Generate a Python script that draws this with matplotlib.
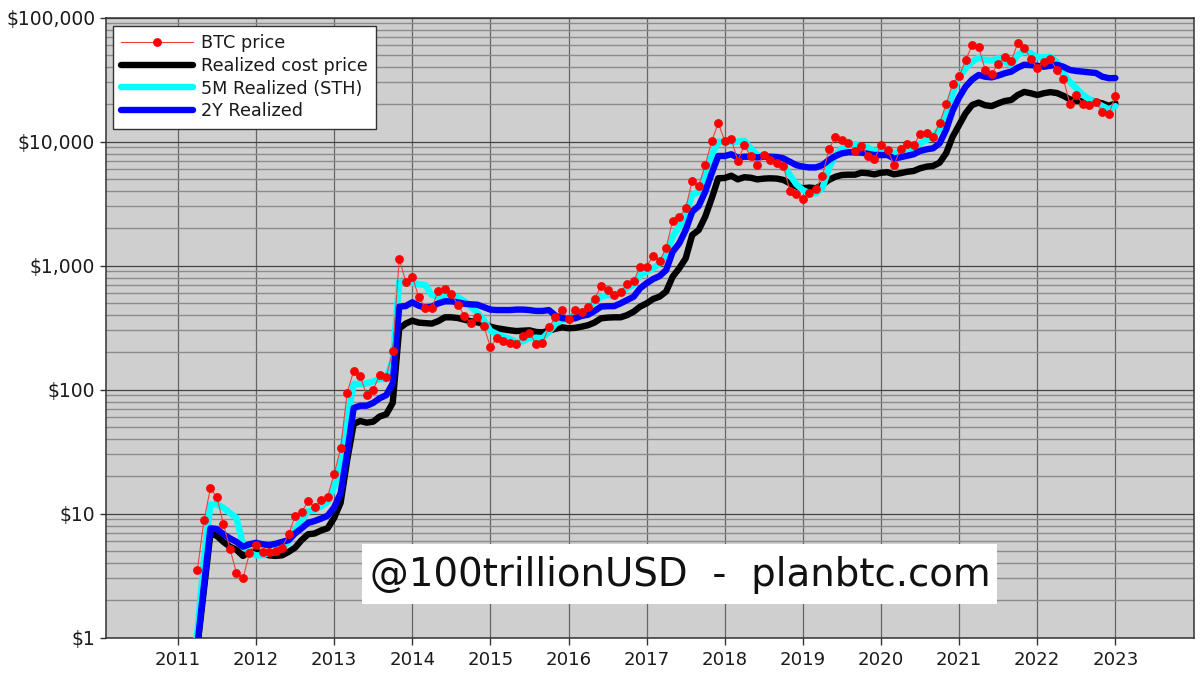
import numpy as np
import matplotlib
matplotlib.use("Agg")
import matplotlib.pyplot as plt
from matplotlib.patches import Rectangle
from matplotlib.ticker import FuncFormatter, LogLocator, NullFormatter

# Monthly values, March 2011 to January 2023 (no price shown for the first month)
btc_price = [
    np.nan, 3.5, 8.8, 16, 13.5, 8.2, 5.2, 3.3, 3.0, 4.8,
    5.6, 4.9, 4.9, 5.0, 5.3, 6.8, 9.5, 10.3, 12.5, 11.2, 12.9, 13.7,
    20.9, 33.6, 94, 141, 129, 90, 100, 131, 126, 204, 1135, 741,
    813, 557, 457, 454, 627, 646, 592, 483, 394, 343, 385, 324,
    220, 260, 248, 238, 231, 268, 288, 233, 238, 319, 382, 435,
    371, 441, 424, 460, 537, 684, 631, 575, 611, 705, 750, 979,
    979, 1200, 1086, 1393, 2297, 2460, 2890, 4827, 4378, 6450, 10100, 14030,
    10140, 10470, 7000, 9300, 7590, 6450, 7780, 7100, 6670, 6380, 3990, 3750,
    3436, 3845, 4140, 5300, 8650, 10930, 10290, 9730, 8340, 9240, 7640, 7180,
    9420, 8590, 6460, 8750, 9550, 9300, 11500, 11770, 10860, 14030, 19950, 29270,
    33550, 45400, 59700, 57800, 37800, 35300, 42200, 47700, 44400, 62200, 57100, 46600,
    38900, 44000, 46200, 37800, 32100, 20200, 23500, 20200, 19600, 20700, 17400, 16700,
    23300,
]
realized_cost = [
    0.3, 0.85, 2.4, 6.9, 6.6, 5.9, 5.4, 5.1, 4.55, 4.9,
    4.9, 4.8, 4.6, 4.55, 4.6, 4.9, 5.3, 6.1, 6.8, 6.9, 7.3, 7.6,
    9.2, 12.2, 26.8, 52.7, 55.7, 54, 55, 60.6, 63, 78, 310, 340,
    359, 346, 343, 340, 356, 382, 382, 377, 366, 355, 348, 338,
    321, 312, 306, 300, 296, 298, 300, 291, 289, 298, 309, 317,
    312, 314, 321, 330, 347, 375, 380, 382, 382, 398, 424, 466,
    495, 537, 561, 617, 813, 948, 1143, 1762, 1932, 2477, 3480, 5050,
    5080, 5300, 4950, 5150, 5100, 4950, 5020, 5050, 5020, 4900, 4600, 4320,
    4200, 4250, 4200, 4470, 4900, 5200, 5370, 5400, 5400, 5600, 5550, 5430,
    5600, 5650, 5430, 5550, 5700, 5780, 6080, 6270, 6350, 6750, 8030, 10930,
    13600, 16900, 19700, 20600, 19600, 19300, 20300, 21200, 21600, 23700, 25100, 24500,
    23700, 24500, 25000, 24600, 23400, 21900, 21200, 21200, 21600, 20900, 20300, 19400,
    20300,
]
sth_5m = [
    0.55, 1.1, 4.2, 11.8, 11.9, 11.1, 10.1, 9.2, 5.6, 4.8,
    4.6, 4.6, 4.8, 4.9, 5.2, 5.9, 7.4, 8.9, 10.4, 10.7, 11.4, 12.4,
    16.4, 25.5, 57, 111, 111, 112, 116, 122, 121, 174, 741, 717,
    731, 705, 697, 578, 560, 560, 560, 555, 517, 466, 417, 363,
    298, 280, 267, 255, 240, 245, 259, 262, 259, 292, 338, 363,
    371, 398, 419, 451, 511, 560, 578, 571, 603, 655, 697, 837,
    891, 948, 1042, 1216, 1706, 2056, 2553, 3700, 3935, 5370, 7780, 9950,
    9950, 9950, 9950, 10150, 8810, 7780, 7640, 7310, 6870, 6450, 5370, 4520,
    4060, 3820, 3820, 4200, 6080, 7780, 8810, 9380, 9500, 9080, 8950, 8280,
    8530, 8530, 8040, 8280, 8810, 8810, 9660, 10290, 10930, 12750, 16900, 24500,
    33300, 38900, 44000, 47400, 45400, 44900, 46900, 44000, 41400, 49900, 53700, 51400,
    47800, 47800, 48300, 44000, 35500, 30300, 26900, 23700, 21900, 20600, 19300, 18200,
    19300,
]
realized_2y = [
    0.3, 0.87, 2.6, 7.6, 7.5, 6.8, 6.3, 5.9, 5.4, 5.65,
    5.8, 5.65, 5.55, 5.7, 5.9, 6.1, 6.9, 7.6, 8.4, 8.7, 9.1, 9.6,
    11.2, 14.6, 30.8, 71, 74, 74, 78, 85, 90, 112, 466, 471,
    505, 474, 457, 466, 495, 514, 514, 505, 492, 486, 483, 462,
    441, 437, 437, 437, 441, 441, 437, 430, 430, 437, 394, 377,
    372, 375, 392, 401, 430, 466, 470, 470, 495, 527, 560, 655,
    720, 778, 822, 920, 1290, 1507, 1932, 2717, 3020, 3935, 5550, 7640,
    7640, 7890, 7410, 7540, 7540, 7450, 7540, 7540, 7500, 7310, 6870, 6450,
    6270, 6180, 6180, 6450, 7100, 7640, 8030, 8190, 8190, 8130, 7950, 7780,
    7780, 7780, 7310, 7460, 7680, 7890, 8380, 8650, 8810, 9660, 12400, 17700,
    22700, 27700, 31600, 34400, 33300, 32900, 34000, 35500, 36600, 39400, 41600, 41300,
    40800, 40100, 40800, 41600, 40100, 37800, 37000, 36600, 36100, 35700, 33300, 32400,
    32500,
]
year_ticks = list(range(2011, 2024))
price_ticks = [1, 10, 100, 1000, 10000, 100000]
series_names = ["BTC price", "Realized cost price", "5M Realized (STH)", "2Y Realized"]
watermark = "@100trillionUSD  -  planbtc.com"

months = 2011 + 2 / 12 + np.arange(len(btc_price)) / 12

W, H = 1200, 676
TEXT = "#1a1a1a"
EDGE = "#333333"
fig = plt.figure(figsize=(12, 6.76), dpi=100, facecolor="white")
ax = fig.add_axes([106 / W, 1 - 637.5 / H, (1193.5 - 106) / W, (637.5 - 17.5) / H])
ax.set_facecolor("#cfcfcf")

ax.plot(months, btc_price, color="#f04040", lw=0.8, marker="o", ms=5.8, mfc="red", mec="red", mew=0.5,
        label=series_names[0], zorder=6)
line_style = dict(lw=4.6, solid_capstyle="round", solid_joinstyle="round")
ax.plot(months, realized_cost, color="black", label=series_names[1], zorder=3, **line_style)
ax.plot(months, sth_5m, color="cyan", label=series_names[2], zorder=4, **line_style)
ax.plot(months, realized_2y, color="blue", label=series_names[3], zorder=5, **line_style)

ax.set_yscale("log")
ax.set_ylim(1, 100000)
ax.set_xlim(2010.08, 2024.0)
ax.set_xticks(year_ticks)
ax.set_xticklabels([str(y) for y in year_ticks])
ax.set_yticks(price_ticks)
ax.yaxis.set_major_formatter(FuncFormatter(lambda v, _: f"${v:,.0f}"))
ax.yaxis.set_minor_locator(LogLocator(base=10, subs=range(2, 10), numticks=12))
ax.yaxis.set_minor_formatter(NullFormatter())
ax.tick_params(axis="y", which="major", labelsize=13.5, length=4.3, width=1, color=EDGE, labelcolor=TEXT, pad=3.5)
ax.tick_params(axis="y", which="minor", length=0)
ax.tick_params(axis="x", labelsize=13.1, length=4.7, width=1, color=EDGE, labelcolor=TEXT, pad=5)

ax.set_axisbelow(True)
ax.grid(True, axis="x", color="#666666", lw=0.9)
ax.grid(True, axis="y", which="major", color="#444444", lw=0.9)
ax.grid(True, axis="y", which="minor", color="#8c8c8c", lw=1.0)
for s in ax.spines.values():
    s.set_color(EDGE)
    s.set_linewidth(1.1)

leg = ax.legend(loc="upper left", bbox_to_anchor=(113 / W, 1 - 26 / H), bbox_transform=fig.transFigure,
                fontsize=12.7, handlelength=4.05, borderaxespad=0, fancybox=False, framealpha=1,
                edgecolor=EDGE, facecolor="white", labelspacing=0.27, handletextpad=0.5,
                borderpad=0.46, labelcolor=TEXT)
leg.get_frame().set_linewidth(1.0)
leg.set_zorder(10)

fig.add_artist(Rectangle((362 / W, 1 - 604 / H), 635 / W, 60 / H, transform=fig.transFigure,
                         facecolor="white", edgecolor="none", zorder=11))
fig.text(680 / W, 1 - 574.5 / H, watermark, fontsize=27.9, ha="center", va="center", color="#111111", zorder=12)

fig.savefig("out.png", dpi=100)
